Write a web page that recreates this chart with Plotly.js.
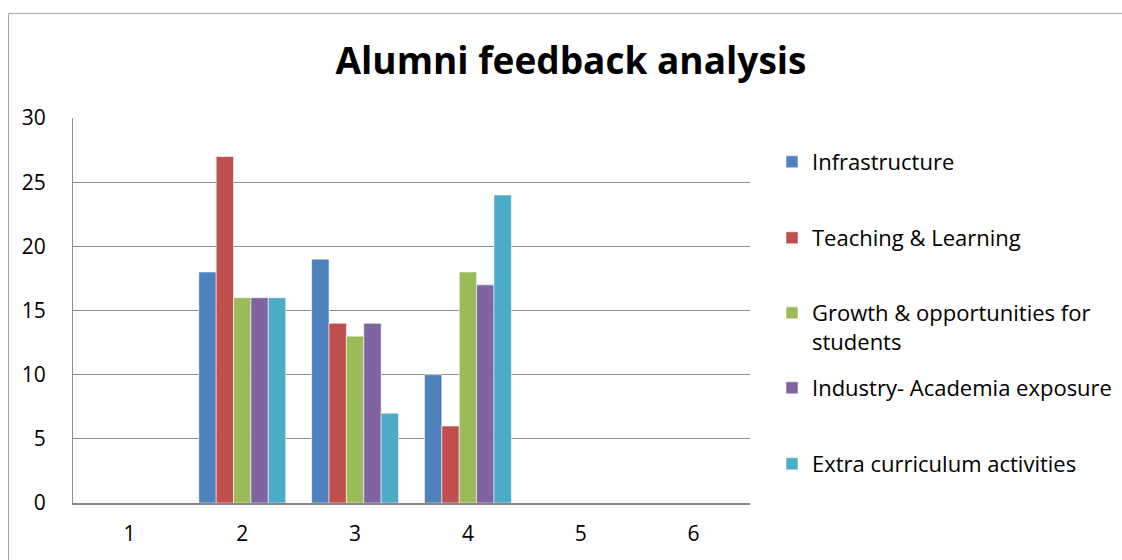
<!DOCTYPE html>
<html>
<head>
<meta charset="utf-8">
<script src="https://cdn.plot.ly/plotly-3.0.1.min.js"></script>
<style>
html,body{margin:0;padding:0;background:#fff;}
#chart{width:1122px;height:560px;}
</style>
</head>
<body>
<div id="chart"></div>
<script>
var categories = ['1', '2', '3', '4', '5', '6'];
var seriesNames = ['Infrastructure', 'Teaching &amp; Learning', 'Growth &amp; opportunities for<br>students', 'Industry- Academia exposure', 'Extra curriculum activities'];
var infrastructure = [null, 18, 19, 10, null, null];
var teachingLearning = [null, 27, 14, 6, null, null];
var growthOpportunities = [null, 16, 13, 18, null, null];
var industryAcademia = [null, 16, 14, 17, null, null];
var extraCurriculum = [null, 16, 7, 24, null, null];
var yTicks = [0, 5, 10, 15, 20, 25, 30];

var seriesValues = [infrastructure, teachingLearning, growthOpportunities, industryAcademia, extraCurriculum];
var colors = ['#4F81BD', '#C0504D', '#9BBB59', '#8064A2', '#4BACC6'];
var legendIds = ['legend', 'legend2', 'legend3', 'legend4', 'legend5'];
var legendCenters = [161, 237, 312, 387, 463]; // pixel y of first text line

var W = 1122, H = 560;
var mL = 73, mR = 372, mT = 118, mB = 57;
var plotW = W - mL - mR, plotH = H - mT - mB;
function px2x(p){ return (p - mL) / plotW; }
function py2y(p){ return (H - mB - p) / plotH; }

var font = '"Open Sans", sans-serif';

var traces = seriesValues.map(function(vals, i){
  return {
    type: 'bar',
    name: seriesNames[i],
    x: categories,
    y: vals,
    marker: {color: colors[i], line: {color: 'rgba(255,255,255,0.55)', width: 1}},
    legend: legendIds[i],
    hoverinfo: 'skip'
  };
});

var layout = {
  width: W, height: H,
  margin: {l: mL, r: mR, t: mT, b: mB, pad: 0, autoexpand: false},
  paper_bgcolor: '#fff', plot_bgcolor: '#fff',
  font: {family: font, size: 21, color: '#000'},
  title: {
    text: '<b>Alumni feedback analysis</b>',
    font: {family: font, size: 37, color: '#000'},
    xref: 'container', yref: 'container',
    x: 571 / W, xanchor: 'center',
    y: 1 - 61 / H, yanchor: 'middle'
  },
  barmode: 'group',
  bargap: 0.23,
  bargroupgap: 0,
  xaxis: {
    type: 'category',
    categoryarray: categories,
    showgrid: false,
    showline: true,
    linecolor: '#868686',
    linewidth: 2,
    ticks: '',
    ticklabelstandoff: 11,
    tickfont: {family: font, size: 21, color: '#000'},
    zeroline: false,
    fixedrange: true
  },
  yaxis: {
    range: [0, 30],
    tickvals: yTicks,
    showgrid: true,
    gridcolor: '#8c8c8c',
    gridwidth: 1,
    showline: true,
    linecolor: '#8c8c8c',
    linewidth: 1,
    ticks: '',
    ticklabelstandoff: 22,
    tickfont: {family: font, size: 21, color: '#000'},
    zeroline: false,
    fixedrange: true
  },
  shapes: [{
    type: 'rect', xref: 'paper', yref: 'paper',
    x0: px2x(8.5), x1: px2x(1140), y0: py2y(600), y1: py2y(13.5),
    line: {color: '#a6a6a6', width: 1}, fillcolor: 'rgba(0,0,0,0)', layer: 'below'
  }],
  showlegend: true
};

legendIds.forEach(function(id, i){
  layout[id] = {
    xref: 'container', yref: 'container',
    x: 772 / W, xanchor: 'left',
    y: 1 - (legendCenters[i] - 20) / H, yanchor: 'top',
    bgcolor: 'rgba(0,0,0,0)',
    borderwidth: 0,
    valign: 'top',
    font: {family: font, size: 22, color: '#000'},
    itemclick: false, itemdoubleclick: false
  };
});

Plotly.newPlot('chart', traces, layout, {displayModeBar: false, staticPlot: true});
</script>
</body>
</html>
